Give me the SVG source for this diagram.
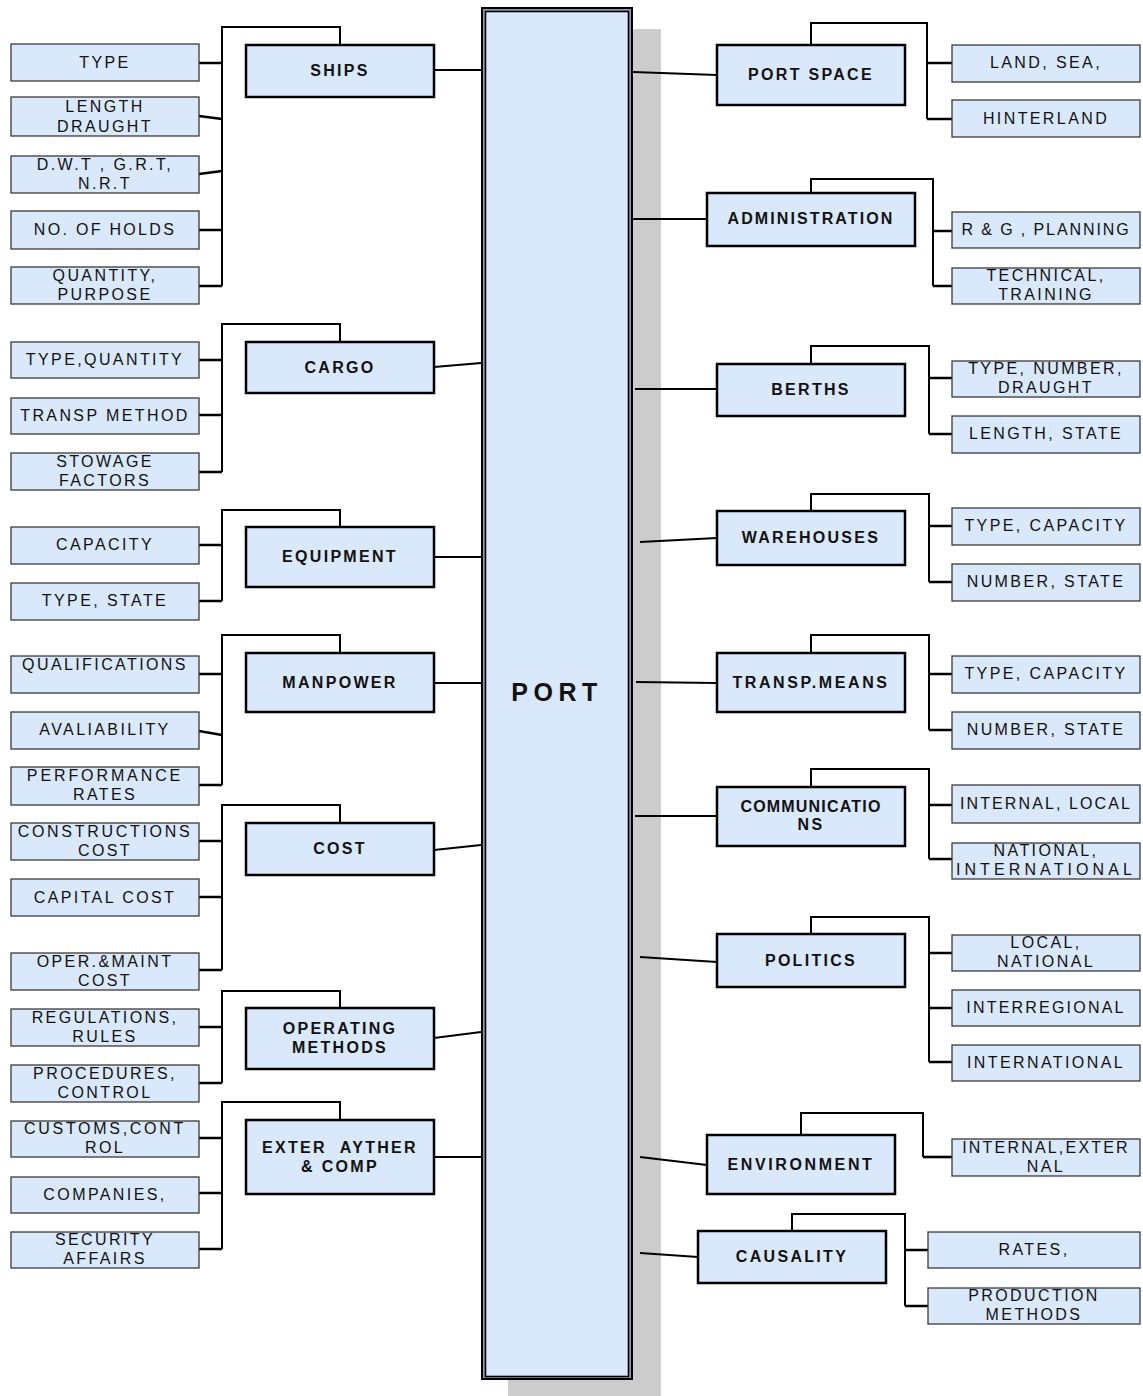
<svg xmlns="http://www.w3.org/2000/svg" width="1143" height="1396" viewBox="0 0 1143 1396">
  <style>
    .big rect { fill: #dae8fc; stroke: #000; stroke-width: 2.5; }
    .small rect { fill: #dae8fc; stroke: #3a3a3a; stroke-width: 1.3; }
    text { font-family: "Liberation Sans", Arial, sans-serif; text-anchor: middle; fill: #111; }
    .lbl { font-size: 16px; letter-spacing: 2.4px; }
    .hdr { font-size: 16px; font-weight: bold; letter-spacing: 2.3px; }
    .br { fill: none; stroke: #000; stroke-width: 2; }
    .stub { fill: none; stroke: #000; stroke-width: 2.6; }
    .feed { fill: none; stroke: #000; stroke-width: 2; }
  </style>

  <!-- central hub with drop shadow and double frame -->
  <g id="port">
    <rect x="508" y="29" width="153" height="1380" fill="#cccccc"/>
    <rect x="482" y="8" width="150" height="1371" fill="#8e9cad" stroke="#000" stroke-width="2"/>
    <rect x="485.5" y="11.5" width="143" height="1365" fill="#dae8fc" stroke="#000" stroke-width="1.6"/>
    <text x="557" y="701" style="font-size:25px;font-weight:bold;letter-spacing:5.5px">PORT</text>
  </g>

  <!-- connectors -->
  <g id="connectors">
    <!-- category boxes to hub -->
    <path class="feed" d="M434,70 L481,70"/>
    <path class="feed" d="M434,367 L481,363"/>
    <path class="feed" d="M434,557 L481,557"/>
    <path class="feed" d="M434,683 L481,683"/>
    <path class="feed" d="M434,850 L481,845"/>
    <path class="feed" d="M434,1038 L481,1032"/>
    <path class="feed" d="M434,1157 L481,1157"/>
    <path class="feed" d="M633,72 L717,75"/>
    <path class="feed" d="M633,219 L707,219"/>
    <path class="feed" d="M635,389 L717,389"/>
    <path class="feed" d="M640,542 L717,538"/>
    <path class="feed" d="M636,682 L717,683"/>
    <path class="feed" d="M635,816 L717,816"/>
    <path class="feed" d="M640,957 L717,962"/>
    <path class="feed" d="M640,1157 L707,1165"/>
    <path class="feed" d="M640,1253 L698,1257"/>

    <!-- left brackets -->
    <path class="br" d="M340,45 V27 H222 V286"/>
    <path class="stub" d="M199,63 H222 M199,116 L222,119 M199,174 L222,171 M199,230 H222 M199,286 H222"/>
    <path class="br" d="M340,342 V324 H222 V472"/>
    <path class="stub" d="M199,360 H222 M199,415 H222 M199,472 H222"/>
    <path class="br" d="M340,527 V510 H222 V601"/>
    <path class="stub" d="M199,545 H222 M199,601 H222"/>
    <path class="br" d="M340,653 V635 H222 V785"/>
    <path class="stub" d="M199,674 H222 M199,731 L222,735 M199,785 H222"/>
    <path class="br" d="M340,823 V805 H222 V970"/>
    <path class="stub" d="M199,841 H222 M199,897 H222 M199,970 H222"/>
    <path class="br" d="M340,1008 V991 H222 V1083"/>
    <path class="stub" d="M199,1027 H222 M199,1083 H222"/>
    <path class="br" d="M340,1120 V1102 H222 V1249"/>
    <path class="stub" d="M199,1138 H222 M199,1193 H222 M199,1249 H222"/>

    <!-- right brackets -->
    <path class="br" d="M811,45 V23 H927 V119"/>
    <path class="stub" d="M927,63 H952 M927,119 H952"/>
    <path class="br" d="M811,193 V179 H933 V286"/>
    <path class="stub" d="M933,231 H952 M933,286 H952"/>
    <path class="br" d="M811,364 V346 H929 V434"/>
    <path class="stub" d="M929,378 H952 M929,434 H952"/>
    <path class="br" d="M811,511 V494 H929 V582"/>
    <path class="stub" d="M929,526 H952 M929,582 H952"/>
    <path class="br" d="M811,653 V635 H929 V730"/>
    <path class="stub" d="M929,674 H952 M929,730 H952"/>
    <path class="br" d="M811,787 V769 H929 V859"/>
    <path class="stub" d="M929,805 H952 M929,859 H952"/>
    <path class="br" d="M811,934 V917 H929 V1062"/>
    <path class="stub" d="M929,953 H952 M929,1008 H952 M929,1062 H952"/>
    <path class="br" d="M801,1135 V1113 H923 V1157"/>
    <path class="stub" d="M923,1157 H952"/>
    <path class="br" d="M792,1231 V1214 H905 V1306"/>
    <path class="stub" d="M905,1250 H928 M905,1306 H928"/>
  </g>

  <!-- left category boxes -->
  <g id="ships" class="big"><rect x="246" y="45" width="188" height="52"/><text class="hdr" x="340" y="76">SHIPS</text></g>
  <g id="cargo" class="big"><rect x="246" y="342" width="188" height="51"/><text class="hdr" x="340" y="373">CARGO</text></g>
  <g id="equipment" class="big"><rect x="246" y="527" width="188" height="60"/><text class="hdr" x="340" y="562">EQUIPMENT</text></g>
  <g id="manpower" class="big"><rect x="246" y="653" width="188" height="59"/><text class="hdr" x="340" y="688">MANPOWER</text></g>
  <g id="cost" class="big"><rect x="246" y="823" width="188" height="52"/><text class="hdr" x="340" y="854">COST</text></g>
  <g id="operating-methods" class="big"><rect x="246" y="1008" width="188" height="61"/><text class="hdr" x="340" y="1034">OPERATING</text><text class="hdr" x="340" y="1053">METHODS</text></g>
  <g id="exter-ayther" class="big"><rect x="246" y="1120" width="188" height="74"/><text class="hdr" x="340" y="1153" style="white-space:pre">EXTER  AYTHER</text><text class="hdr" x="340" y="1172">&amp; COMP</text></g>

  <!-- left detail boxes -->
  <g id="ships-type" class="small"><rect x="11" y="44" width="188" height="37"/><text class="lbl" x="105" y="68">TYPE</text></g>
  <g id="ships-length" class="small"><rect x="11" y="97" width="188" height="39"/><text class="lbl" x="105" y="112">LENGTH</text><text class="lbl" x="105" y="132">DRAUGHT</text></g>
  <g id="ships-tonnage" class="small"><rect x="11" y="156" width="188" height="37"/><text class="lbl" x="105" y="170">D.W.T , G.R.T,</text><text class="lbl" x="105" y="189">N.R.T</text></g>
  <g id="ships-holds" class="small"><rect x="11" y="211" width="188" height="38"/><text class="lbl" x="105" y="235" style="letter-spacing:2.3px">NO. OF HOLDS</text></g>
  <g id="ships-quantity" class="small"><rect x="11" y="267" width="188" height="37"/><text class="lbl" x="105" y="281">QUANTITY,</text><text class="lbl" x="105" y="300">PURPOSE</text></g>

  <g id="cargo-type" class="small"><rect x="11" y="342" width="188" height="36"/><text class="lbl" x="105" y="365">TYPE,QUANTITY</text></g>
  <g id="cargo-transp" class="small"><rect x="11" y="398" width="188" height="36"/><text class="lbl" x="105" y="421">TRANSP METHOD</text></g>
  <g id="cargo-stowage" class="small"><rect x="11" y="453" width="188" height="37"/><text class="lbl" x="105" y="467">STOWAGE</text><text class="lbl" x="105" y="486">FACTORS</text></g>

  <g id="equip-capacity" class="small"><rect x="11" y="527" width="188" height="37"/><text class="lbl" x="105" y="550">CAPACITY</text></g>
  <g id="equip-type" class="small"><rect x="11" y="583" width="188" height="37"/><text class="lbl" x="105" y="606">TYPE, STATE</text></g>

  <g id="man-qualifications" class="small"><rect x="11" y="656" width="188" height="37"/><text class="lbl" x="105" y="670">QUALIFICATIONS</text></g>
  <g id="man-availability" class="small"><rect x="11" y="712" width="188" height="37"/><text class="lbl" x="105" y="735">AVALIABILITY</text></g>
  <g id="man-performance" class="small"><rect x="11" y="767" width="188" height="38"/><text class="lbl" x="105" y="781" style="letter-spacing:2.9px">PERFORMANCE</text><text class="lbl" x="105" y="800">RATES</text></g>

  <g id="cost-construction" class="small"><rect x="11" y="823" width="188" height="37"/><text class="lbl" x="105" y="837" style="letter-spacing:2.7px">CONSTRUCTIONS</text><text class="lbl" x="105" y="856">COST</text></g>
  <g id="cost-capital" class="small"><rect x="11" y="879" width="188" height="37"/><text class="lbl" x="105" y="903">CAPITAL COST</text></g>
  <g id="cost-operation" class="small"><rect x="11" y="953" width="188" height="37"/><text class="lbl" x="105" y="967">OPER.&amp;MAINT</text><text class="lbl" x="105" y="986">COST</text></g>

  <g id="op-regulations" class="small"><rect x="11" y="1009" width="188" height="37"/><text class="lbl" x="105" y="1023">REGULATIONS,</text><text class="lbl" x="105" y="1042">RULES</text></g>
  <g id="op-procedures" class="small"><rect x="11" y="1065" width="188" height="37"/><text class="lbl" x="105" y="1079">PROCEDURES,</text><text class="lbl" x="105" y="1098">CONTROL</text></g>

  <g id="ext-customs" class="small"><rect x="11" y="1121" width="188" height="36"/><text class="lbl" x="105" y="1134" style="letter-spacing:2.7px">CUSTOMS,CONT</text><text class="lbl" x="105" y="1153">ROL</text></g>
  <g id="ext-companies" class="small"><rect x="11" y="1177" width="188" height="36"/><text class="lbl" x="105" y="1200">COMPANIES,</text></g>
  <g id="ext-security" class="small"><rect x="11" y="1232" width="188" height="36"/><text class="lbl" x="105" y="1245">SECURITY</text><text class="lbl" x="105" y="1264">AFFAIRS</text></g>

  <!-- right category boxes -->
  <g id="port-space" class="big"><rect x="717" y="45" width="188" height="60"/><text class="hdr" x="811" y="80">PORT SPACE</text></g>
  <g id="administration" class="big"><rect x="707" y="193" width="208" height="53"/><text class="hdr" x="811" y="224" style="letter-spacing:2.1px">ADMINISTRATION</text></g>
  <g id="berths" class="big"><rect x="717" y="364" width="188" height="52"/><text class="hdr" x="811" y="395">BERTHS</text></g>
  <g id="warehouses" class="big"><rect x="717" y="511" width="188" height="54"/><text class="hdr" x="811" y="543">WAREHOUSES</text></g>
  <g id="transp-means" class="big"><rect x="717" y="653" width="188" height="59"/><text class="hdr" x="811" y="688" style="letter-spacing:2.6px">TRANSP.MEANS</text></g>
  <g id="communications" class="big"><rect x="717" y="787" width="188" height="59"/><text class="hdr" x="811" y="812" style="letter-spacing:1.2px">COMMUNICATIO</text><text class="hdr" x="811" y="830">NS</text></g>
  <g id="politics" class="big"><rect x="717" y="934" width="188" height="53"/><text class="hdr" x="811" y="966">POLITICS</text></g>
  <g id="environment" class="big"><rect x="707" y="1135" width="188" height="59"/><text class="hdr" x="801" y="1170" style="letter-spacing:2.6px">ENVIRONMENT</text></g>
  <g id="causality" class="big"><rect x="698" y="1231" width="188" height="52"/><text class="hdr" x="792" y="1262">CAUSALITY</text></g>

  <!-- right detail boxes -->
  <g id="space-land" class="small"><rect x="952" y="45" width="188" height="37"/><text class="lbl" x="1046" y="68">LAND, SEA,</text></g>
  <g id="space-hinterland" class="small"><rect x="952" y="100" width="188" height="37"/><text class="lbl" x="1046" y="124">HINTERLAND</text></g>

  <g id="admin-planning" class="small"><rect x="952" y="212" width="188" height="36"/><text class="lbl" x="1046" y="235" style="letter-spacing:1.9px">R &amp; G , PLANNING</text></g>
  <g id="admin-technical" class="small"><rect x="952" y="268" width="188" height="36"/><text class="lbl" x="1046" y="281">TECHNICAL,</text><text class="lbl" x="1046" y="300">TRAINING</text></g>

  <g id="berths-type" class="small"><rect x="952" y="361" width="188" height="36"/><text class="lbl" x="1046" y="374">TYPE, NUMBER,</text><text class="lbl" x="1046" y="393">DRAUGHT</text></g>
  <g id="berths-length" class="small"><rect x="952" y="416" width="188" height="37"/><text class="lbl" x="1046" y="439">LENGTH, STATE</text></g>

  <g id="wh-type" class="small"><rect x="952" y="508" width="188" height="37"/><text class="lbl" x="1046" y="531">TYPE, CAPACITY</text></g>
  <g id="wh-number" class="small"><rect x="952" y="564" width="188" height="37"/><text class="lbl" x="1046" y="587">NUMBER, STATE</text></g>

  <g id="tm-type" class="small"><rect x="952" y="656" width="188" height="37"/><text class="lbl" x="1046" y="679">TYPE, CAPACITY</text></g>
  <g id="tm-number" class="small"><rect x="952" y="712" width="188" height="37"/><text class="lbl" x="1046" y="735">NUMBER, STATE</text></g>

  <g id="comm-internal" class="small"><rect x="952" y="785" width="188" height="38"/><text class="lbl" x="1046" y="809" style="letter-spacing:2.1px">INTERNAL, LOCAL</text></g>
  <g id="comm-national" class="small"><rect x="952" y="843" width="188" height="36"/><text class="lbl" x="1046" y="856">NATIONAL,</text><text class="lbl" x="1046" y="875" style="letter-spacing:4.1px">INTERNATIONAL</text></g>

  <g id="pol-local" class="small"><rect x="952" y="935" width="188" height="36"/><text class="lbl" x="1046" y="948">LOCAL,</text><text class="lbl" x="1046" y="967">NATIONAL</text></g>
  <g id="pol-interregional" class="small"><rect x="952" y="990" width="188" height="36"/><text class="lbl" x="1046" y="1013" style="letter-spacing:2.2px">INTERREGIONAL</text></g>
  <g id="pol-international" class="small"><rect x="952" y="1045" width="188" height="36"/><text class="lbl" x="1046" y="1068">INTERNATIONAL</text></g>

  <g id="env-internal" class="small"><rect x="952" y="1139" width="188" height="37"/><text class="lbl" x="1046" y="1153" style="letter-spacing:2.2px">INTERNAL,EXTER</text><text class="lbl" x="1046" y="1172">NAL</text></g>

  <g id="caus-rates" class="small"><rect x="928" y="1232" width="212" height="36"/><text class="lbl" x="1034" y="1255">RATES,</text></g>
  <g id="caus-production" class="small"><rect x="928" y="1288" width="212" height="36"/><text class="lbl" x="1034" y="1301">PRODUCTION</text><text class="lbl" x="1034" y="1320">METHODS</text></g>
</svg>
